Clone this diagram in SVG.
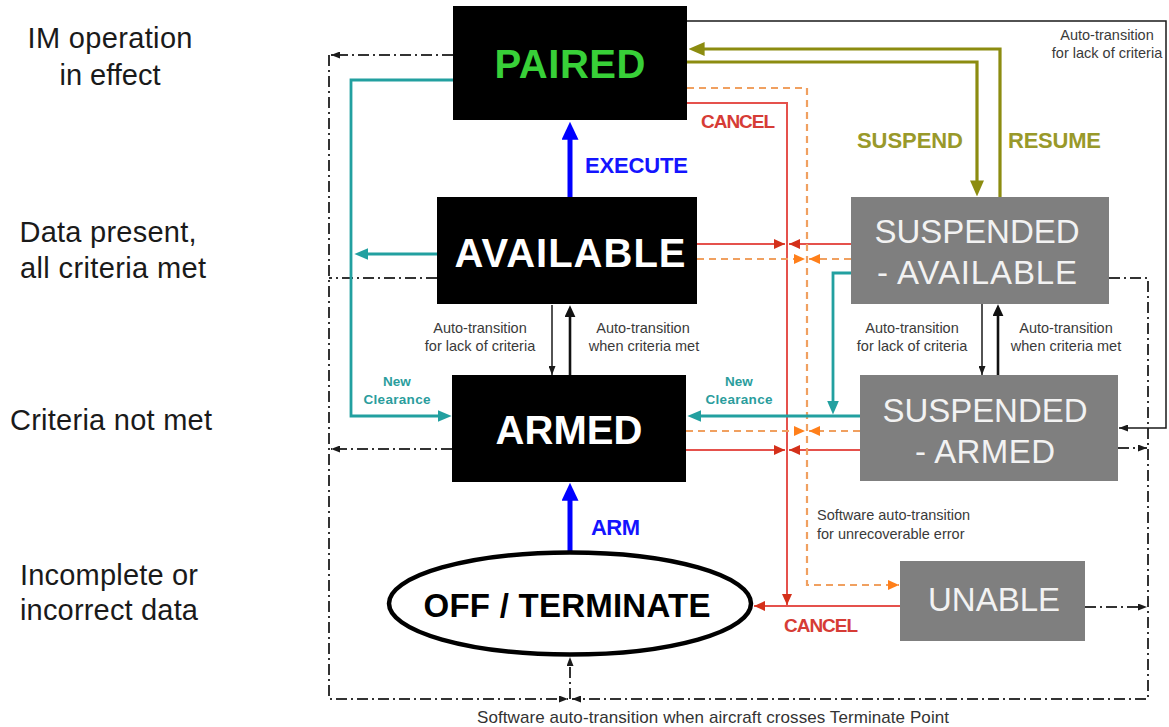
<svg xmlns="http://www.w3.org/2000/svg" width="1169" height="727" viewBox="0 0 1169 727">
<defs>
<style>
text { font-family: "Liberation Sans", Arial, Helvetica, sans-serif; }
.side { font-size: 29px; fill: #1a1a1a; text-anchor: middle; }
.bk { fill: #000; }
.gr { fill: #7f7f7f; }
.big { font-size: 40px; font-weight: bold; text-anchor: middle; fill: #ffffff; }
.sus { font-size: 33px; text-anchor: middle; fill: #f2f2f2; }
.small { font-size: 14.5px; fill: #3a3a3a; text-anchor: middle; }
.act { font-size: 22px; font-weight: bold; }
.cancel { font-size: 19px; font-weight: bold; fill: #d63c36; }
.nc { font-size: 13.5px; font-weight: bold; fill: #2a9d9d; text-anchor: middle; }
.dd { fill: none; stroke: #333; stroke-width: 2; stroke-dasharray: 11 4 2 4; }
.red { fill: none; stroke: #e5514c; stroke-width: 2; }
.org { fill: none; stroke: #f0a060; stroke-width: 2.2; stroke-dasharray: 7 5; }
.teal { fill: none; stroke: #22a0a0; stroke-width: 2.8; }
.olive { fill: none; stroke: #8c8c10; stroke-width: 3.2; }
.blue { fill: none; stroke: #0000ff; stroke-width: 5; }
.blk { fill: none; stroke: #1a1a1a; stroke-width: 1.5; }
.blk2 { fill: none; stroke: #111; stroke-width: 2.6; }
</style>
<marker id="aBlue" viewBox="0 0 10 10" refX="1" refY="5" markerUnits="userSpaceOnUse" markerWidth="18" markerHeight="17" orient="auto" preserveAspectRatio="none"><path d="M0,0 L10,5 L0,10 z" fill="#0000ff"/></marker>
<marker id="aOlive" viewBox="0 0 10 10" refX="1" refY="5" markerUnits="userSpaceOnUse" markerWidth="16" markerHeight="14" orient="auto" preserveAspectRatio="none"><path d="M0,0 L10,5 L0,10 z" fill="#8c8c10"/></marker>
<marker id="aTeal" viewBox="0 0 10 10" refX="1" refY="5" markerUnits="userSpaceOnUse" markerWidth="14" markerHeight="12" orient="auto" preserveAspectRatio="none"><path d="M0,0 L10,5 L0,10 z" fill="#22a0a0"/></marker>
<marker id="aBlk2" viewBox="0 0 10 10" refX="1" refY="5" markerUnits="userSpaceOnUse" markerWidth="12" markerHeight="11" orient="auto" preserveAspectRatio="none"><path d="M0,0 L10,5 L0,10 z" fill="#111"/></marker>
<marker id="aBlk" viewBox="0 0 10 10" refX="10" refY="5" markerUnits="userSpaceOnUse" markerWidth="9" markerHeight="7" orient="auto" preserveAspectRatio="none"><path d="M0,0 L10,5 L0,10 z" fill="#1a1a1a"/></marker>
<marker id="aRed" viewBox="0 0 10 10" refX="10" refY="5" markerUnits="userSpaceOnUse" markerWidth="11" markerHeight="10" orient="auto" preserveAspectRatio="none"><path d="M0,0 L10,5 L0,10 z" fill="#d4301a"/></marker>
<marker id="aOrg" viewBox="0 0 10 10" refX="10" refY="5" markerUnits="userSpaceOnUse" markerWidth="11" markerHeight="10" orient="auto" preserveAspectRatio="none"><path d="M0,0 L10,5 L0,10 z" fill="#ff7f1a"/></marker>
</defs>
<rect width="1169" height="727" fill="#ffffff"/>

<g id="side-labels">
<text class="side" x="110" y="48" textLength="165">IM operation</text>
<text class="side" x="110" y="85">in effect</text>
<text class="side" x="108" y="242" textLength="177">Data present,</text>
<text class="side" x="113" y="278" textLength="186">all criteria met</text>
<text class="side" x="111" y="430" textLength="202">Criteria not met</text>
<text class="side" x="109" y="585" textLength="178">Incomplete or</text>
<text class="side" x="109" y="620" textLength="178">incorrect data</text>
</g>

<g id="connectors">
<!-- dash-dot boundary -->
<path class="dd" d="M453,55 H331" marker-end="url(#aBlk)"/>
<path class="dd" d="M329,55 V699 H568" marker-end="url(#aBlk)"/>
<path class="dd" d="M1109,278 H1148 V699 H572" marker-end="url(#aBlk)"/>
<path class="dd" d="M570,699 V657" marker-end="url(#aBlk)"/>
<path class="dd" d="M437,278 H329"/>
<path class="dd" d="M452,449 H331" marker-end="url(#aBlk)"/>
<path class="dd" d="M1118,448 H1147" marker-end="url(#aBlk)"/>
<path class="dd" d="M1085,607 H1147" marker-end="url(#aBlk)"/>

<!-- blue -->
<path class="blue" d="M570,197 V138" marker-end="url(#aBlue)"/>
<path class="blue" d="M570,552 V499" marker-end="url(#aBlue)"/>

<!-- black auto-transitions -->
<path class="blk" d="M552,305 V375" marker-end="url(#aBlk)"/>
<path class="blk2" d="M570,375 V316" marker-end="url(#aBlk2)"/>
<path class="blk" d="M982,304 V375" marker-end="url(#aBlk)"/>
<path class="blk2" d="M998,375 V315" marker-end="url(#aBlk2)"/>
<path class="blk" d="M687,21 H1166 V428 H1119" marker-end="url(#aBlk)"/>

<!-- olive -->
<path class="olive" d="M687,62 H977 V182" marker-end="url(#aOlive)"/>
<path class="olive" d="M1000,197 V49 H703" marker-end="url(#aOlive)"/>

<!-- red cancel -->
<path class="red" d="M687,103 H787 V605" marker-end="url(#aRed)"/>
<path class="red" d="M900,606 H754" marker-end="url(#aRed)"/>
<path class="red" d="M697,244 H785" marker-end="url(#aRed)"/>
<path class="red" d="M851,244 H789" marker-end="url(#aRed)"/>
<path class="red" d="M686,450 H785" marker-end="url(#aRed)"/>
<path class="red" d="M860,450 H789" marker-end="url(#aRed)"/>

<!-- orange unrecoverable error -->
<path class="org" d="M687,88 H807 V585 H899" marker-end="url(#aOrg)"/>
<path class="org" d="M697,259 H805" marker-end="url(#aOrg)"/>
<path class="org" d="M851,259 H809" marker-end="url(#aOrg)"/>
<path class="org" d="M686,431 H805" marker-end="url(#aOrg)"/>
<path class="org" d="M860,431 H809" marker-end="url(#aOrg)"/>

<!-- teal new clearance -->
<path class="teal" d="M453,80 H351 V416 H439" marker-end="url(#aTeal)"/>
<path class="teal" d="M437,254 H367" marker-end="url(#aTeal)"/>
<path class="teal" d="M851,273 H833 V402" marker-end="url(#aTeal)"/>
<path class="teal" d="M860,416 H700" marker-end="url(#aTeal)"/>

<!-- connector labels -->
<text class="act" x="585" y="173" fill="#1414ff" textLength="103">EXECUTE</text>
<text class="act" x="591" y="535" fill="#1414ff" textLength="49">ARM</text>
<text class="act" x="857" y="148" fill="#99992a" textLength="106">SUSPEND</text>
<text class="act" x="1008" y="148" fill="#99992a" textLength="93">RESUME</text>
<text class="cancel" x="701" y="128" textLength="74">CANCEL</text>
<text class="cancel" x="784" y="632" textLength="74">CANCEL</text>
<text class="small" x="480" y="333">Auto-transition</text>
<text class="small" x="480" y="351">for lack of criteria</text>
<text class="small" x="643" y="333">Auto-transition</text>
<text class="small" x="644" y="351">when criteria met</text>
<text class="small" x="912" y="333">Auto-transition</text>
<text class="small" x="912" y="351">for lack of criteria</text>
<text class="small" x="1066" y="333">Auto-transition</text>
<text class="small" x="1066" y="351">when criteria met</text>
<text class="small" x="1107" y="40">Auto-transition</text>
<text class="small" x="1107" y="58">for lack of criteria</text>
<text class="nc" x="397" y="386">New</text>
<text class="nc" x="397" y="404" textLength="67">Clearance</text>
<text class="nc" x="739" y="386">New</text>
<text class="nc" x="739" y="404" textLength="67">Clearance</text>
<text class="small" x="817" y="520" text-anchor="start" style="text-anchor:start">Software auto-transition</text>
<text class="small" x="817" y="539" style="text-anchor:start">for unrecoverable error</text>
<text x="713" y="723" font-size="17" fill="#333" text-anchor="middle" textLength="472">Software auto-transition when aircraft crosses Terminate Point</text>
</g>

<g id="node-paired">
<rect class="bk" x="453" y="6" width="234" height="114"/>
<text x="570" y="78" font-size="40" font-weight="bold" fill="#38d038" text-anchor="middle" textLength="151">PAIRED</text>
</g>
<g id="node-available">
<rect class="bk" x="437" y="197" width="260" height="107"/>
<text class="big" x="570" y="267" textLength="231">AVAILABLE</text>
</g>
<g id="node-armed">
<rect class="bk" x="452" y="375" width="234" height="107"/>
<text class="big" x="569" y="444" textLength="147">ARMED</text>
</g>
<g id="node-off">
<ellipse cx="570" cy="603.5" rx="181" ry="51" fill="#fff" stroke="#000" stroke-width="4.5"/>
<text x="567" y="617" font-size="33" font-weight="bold" fill="#000" text-anchor="middle" textLength="287">OFF / TERMINATE</text>
</g>
<g id="node-suspended-available">
<rect class="gr" x="851" y="197" width="258" height="107"/>
<text class="sus" x="977" y="243" textLength="205">SUSPENDED</text>
<text class="sus" x="977" y="284" textLength="200">- AVAILABLE</text>
</g>
<g id="node-suspended-armed">
<rect class="gr" x="860" y="375" width="258" height="106"/>
<text class="sus" x="985" y="422" textLength="205">SUSPENDED</text>
<text class="sus" x="985" y="463" textLength="140">- ARMED</text>
</g>
<g id="node-unable">
<rect class="gr" x="900" y="561" width="185" height="80"/>
<text class="sus" x="994" y="611" textLength="132">UNABLE</text>
</g>
</svg>
